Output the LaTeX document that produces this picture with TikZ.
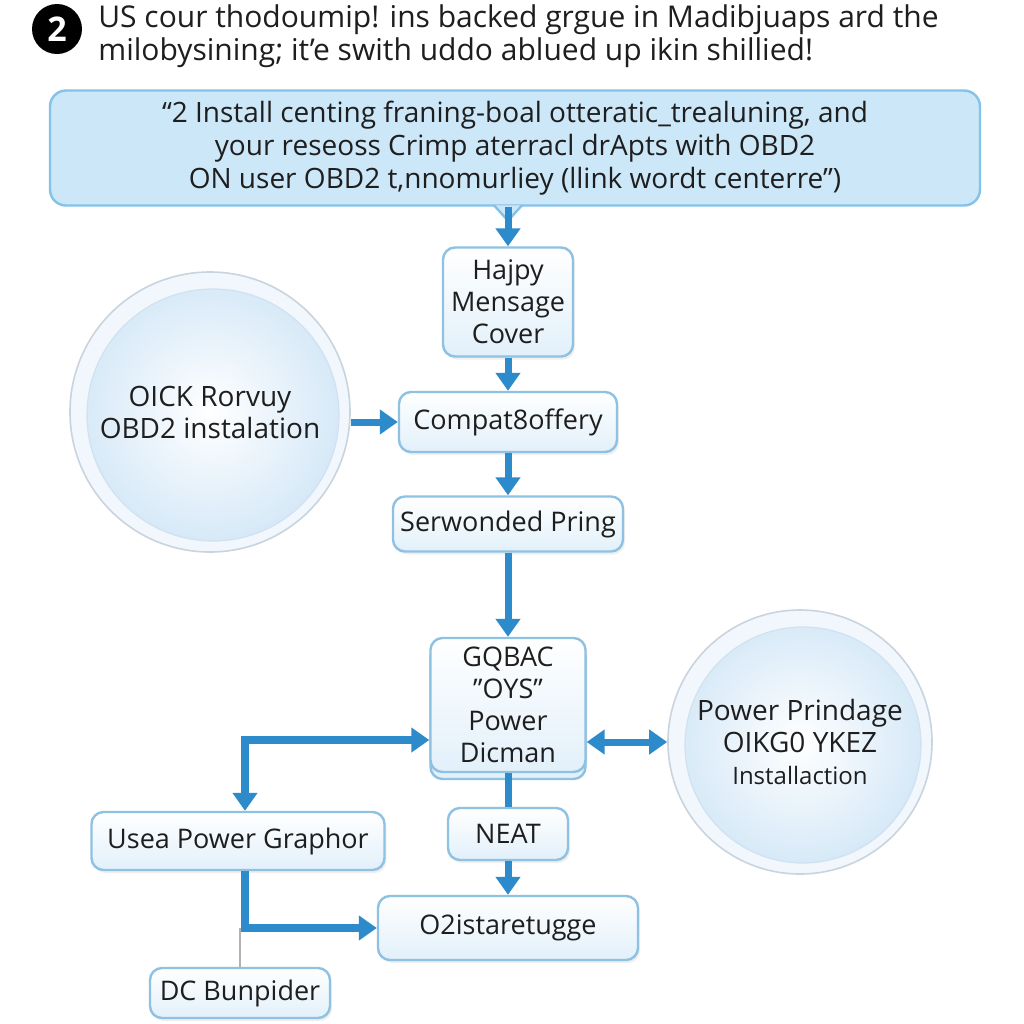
\documentclass[tikz,border=0pt]{standalone}
\usepackage{fontspec}
\setmainfont{Open Sans}
\usetikzlibrary{arrows.meta,shadows}
\definecolor{flowblue}{HTML}{2E8BCB}
\definecolor{boxline}{HTML}{8FC1E2}
\definecolor{boxfill}{HTML}{E2F0FA}
\definecolor{introfill}{HTML}{CCE7F8}
\definecolor{introline}{HTML}{84C2EA}
\definecolor{ringfill}{HTML}{F1F7FC}
\definecolor{ringline}{HTML}{C9D4DE}
\definecolor{innerblue}{HTML}{D3E7F7}
\definecolor{textdark}{HTML}{1E1E1E}
\def\boxfont{\fontsize{13.5}{16}\selectfont}
\def\ringfont{\fontsize{14}{16}\selectfont}
\tikzset{
    >={Triangle[width=12pt,length=9pt]},
    box/.style={draw=boxline, line width=1.2pt, rounded corners=6pt,
        top color=white, bottom color=boxfill, align=center,
        font=\boxfont, text=textdark, inner sep=3pt,
        drop shadow={opacity=0.12, shadow xshift=1pt, shadow yshift=-1.5pt}},
    ring/.style={circle, draw=ringline, line width=0.8pt, fill=ringfill,
        minimum size=#1, align=center, font=\ringfont, text=textdark,
        path picture={\shade[inner color=white, outer color=innerblue, draw=innerblue!70!ringline, line width=0.6pt]
            ([xshift=1.5pt,yshift=-1.5pt]path picture bounding box.center) circle (#1/2-7pt);}},
    flow/.style={draw=flowblue, line width=3.5pt, ->},
}

\begin{document}
\begin{tikzpicture}[x=0.5pt, y=-0.5pt]
    \useasboundingbox[fill=white] (0,0) rectangle (1024,1024);

    \node[circle, fill=black, minimum size=25pt, inner sep=0pt, text=white,
        font=\bfseries\fontsize{17}{17}\selectfont] (num) at (57,29) {2};
    \node[anchor=west, align=left, inner sep=0pt, text=textdark,
        font=\fontsize{15}{16.5}\selectfont] (title) at (98,36)
        {US cour thodoumip! ins backed grgue in Madibjuaps ard the\\
         milobysining; it'e swith uddo ablued up ikin shillied!};

    \node[draw=introline, line width=1.2pt, rounded corners=8pt, fill=introfill,
        minimum width=465pt, minimum height=57.5pt, align=center, text=textdark,
        font=\fontsize{14}{16.5}\selectfont] (intro) at (515,148)
        {``2 Install centing franing-boal otteratic\_trealuning, and\\
         your reseoss Crimp aterracl drApts with OBD2\\
         ON user OBD2 t,nnomurliey (llink wordt centerre'')};

    \node[box, minimum width=65pt, minimum height=54.5pt] (hajpy) at (508,302) {Hajpy\\Mensage\\Cover};
    \node[box, minimum width=109pt, minimum height=30pt] (compat) at (508,422) {Compat8offery};
    \node[box, minimum width=115pt, minimum height=27.5pt] (serw) at (508,524) {Serwonded Pring};
    \node[box, minimum width=77.5pt, minimum height=67pt,
        copy shadow={fill=boxfill, draw=boxline, line width=1.2pt, opacity=1,
            shadow xshift=0pt, shadow yshift=-3.5pt}] (gqbac) at (508,705)
        {GQBAC\\"OYS"\\Power\\Dicman};
    \node[box, minimum width=60pt, minimum height=26pt] (neat) at (508,834) {NEAT};
    \node[box, minimum width=130pt, minimum height=32pt] (o2) at (508,928) {O2istaretugge};
    \node[box, minimum width=146.5pt, minimum height=29pt] (usea) at (238,841) {Usea Power Graphor};
    \node[box, minimum width=90pt, minimum height=25pt] (dc) at (240,993) {DC Bunpider};

    \node[ring=140pt] (oick) at (210,412) {OICK Rorvuy\\OBD2 instalation};
    \node[ring=132pt] (pwr) at (800,742) {Power Prindage\\OIKG0 YKEZ\\{\fontsize{12}{16}\selectfont Installaction}};

    \coordinate (tip) at (hajpy.north |- intro.south);
    \coordinate (elbow) at (245,740);

    \draw[draw=introline, fill=introfill, line width=1.2pt]
        (tip) ++(-7pt,0.7pt) -- ++(7pt,-7.7pt) -- ++(7pt,7.7pt);

    \draw[flow] (tip) -- (hajpy.north);
    \draw[flow] (hajpy) -- (compat);
    \draw[flow] (oick.east |- compat) -- (compat.west);
    \draw[flow] (compat) -- (serw);
    \draw[flow] (serw) -- (gqbac);
    \draw[flow, <->] (gqbac.east |- pwr) -- (pwr.west);
    \draw[flow, <->, line width=4pt] (usea.north -| elbow) -- (elbow) -- (elbow -| gqbac.west);
    \draw[flowblue, line width=3.5pt] (gqbac) -- (neat);
    \draw[flow] (neat) -- (o2);
    \draw[flow, line width=4pt] (usea.south -| elbow) |- (o2.west);
    \draw[gray!60, line width=0.8pt] (dc.north) -- (dc.north |- o2.west);
\end{tikzpicture}
\end{document}
